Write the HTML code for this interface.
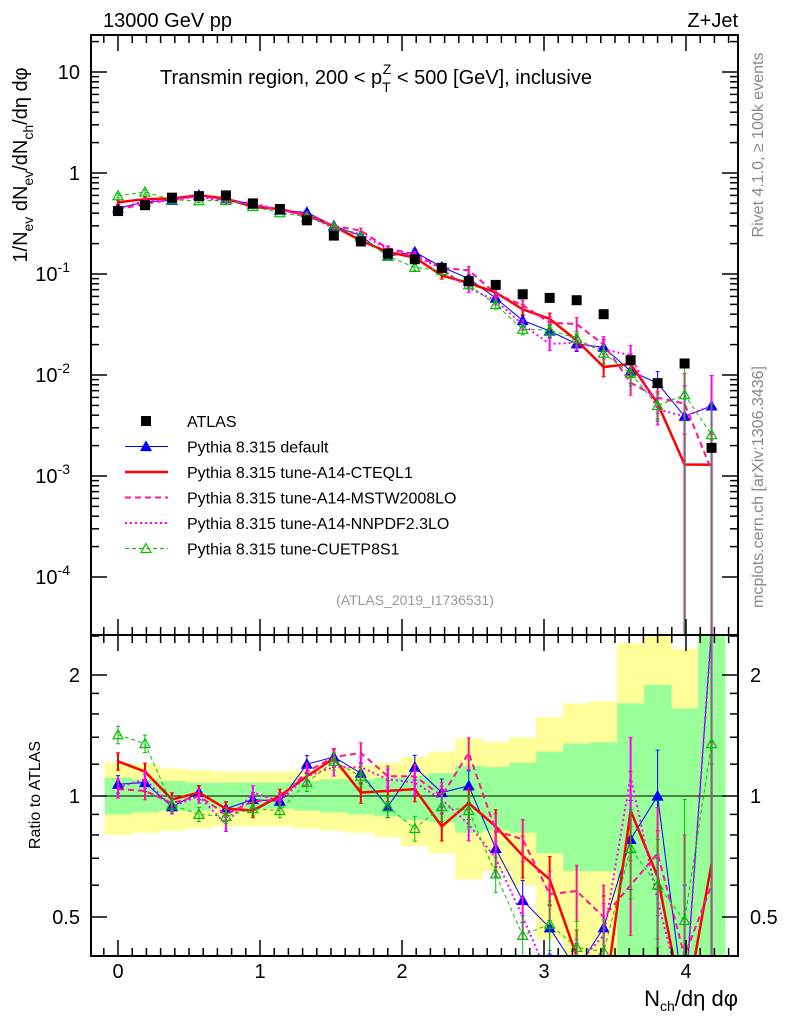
<!DOCTYPE html>
<html><head><meta charset="utf-8"><style>
html,body{margin:0;background:#fff;overflow:hidden;width:786px;height:1024px}
svg{display:block;font-family:"Liberation Sans",sans-serif}
</style></head><body>
<svg id="c" width="786" height="1024"></svg>
<script>
const xs=[0,0.19,0.38,0.57,0.76,0.95,1.14,1.33,1.52,1.71,1.9,2.09,2.28,2.47,2.66,2.85,3.04,3.23,3.42,3.61,3.8,3.99,4.18];
const atlas=[0.42,0.48,0.57,0.59,0.60,0.50,0.44,0.34,0.24,0.21,0.16,0.14,0.115,0.085,0.078,0.063,0.058,0.055,0.04,0.014,0.0083,0.013,0.0019];
const rDefault=[1.07,1.08,0.94,1.02,0.93,0.98,0.97,1.20,1.25,1.14,0.94,1.18,1.02,1.06,0.74,0.55,0.47,0.37,0.47,0.78,1.00,0.30,2.6];
const rA14=[1.22,1.15,0.98,1.02,0.93,0.92,1.00,1.12,1.24,1.02,1.03,1.04,0.84,0.96,0.84,0.71,0.62,0.40,0.30,0.92,0.63,0.10,0.68];
const rMSTW=[1.04,1.03,0.96,1.00,0.90,0.97,0.98,1.15,1.25,1.28,1.12,1.12,1.00,1.28,0.82,0.78,0.57,0.58,0.50,0.60,0.72,0.40,0.60];
const rNNPDF=[1.05,1.10,0.94,1.00,0.85,1.02,0.97,1.12,1.18,1.18,1.10,1.08,0.98,0.85,0.70,0.50,0.35,0.38,0.45,1.12,0.55,0.30,2.6];
const rCUETP=[1.42,1.35,0.95,0.90,0.89,0.93,0.92,1.08,1.22,1.12,0.94,0.83,0.94,0.92,0.64,0.45,0.48,0.42,0.41,0.74,0.60,0.49,1.35];
const relErr=[0.05,0.05,0.04,0.04,0.04,0.04,0.04,0.05,0.05,0.06,0.06,0.07,0.08,0.09,0.1,0.12,0.14,0.16,0.2,0.25,0.3,1.0,1.0];
const yLo=[.80,.81,.82,.83,.84,.84,.84,.83,.82,.81,.79,.75,.72,.62,.65,.60,.44,.38,.38,.38,.38,.38,.38];
const yHi=[1.21,1.20,1.17,1.16,1.15,1.15,1.15,1.16,1.18,1.19,1.21,1.25,1.29,1.39,1.36,1.40,1.57,1.70,1.72,2.4,2.6,2.32,2.6];
const gLo=[.90,.91,.92,.92,.93,.93,.93,.92,.91,.90,.89,.87,.86,.81,.82,.81,.72,.65,.65,.38,.38,.38,.38];
const gHi=[1.11,1.10,1.09,1.08,1.08,1.08,1.08,1.09,1.10,1.10,1.11,1.12,1.14,1.19,1.18,1.21,1.29,1.35,1.36,1.70,1.89,1.65,2.6];
const xTicks=[0,1,2,3,4];
const yTickExp=[1,0,-1,-2,-3,-4];

const NS="http://www.w3.org/2000/svg",svg=document.getElementById('c');
const L=91,R=738,T=35,MB=635,RB=956;
const X=v=>118+v*142;
const Y=v=>173-Math.log10(v)*101;
const YR=v=>796-Math.log2(v)*121;
const clampY=(y,lo,hi)=>Math.max(lo,Math.min(hi,y));
function el(t,a,p){const e=document.createElementNS(NS,t);for(const k in a)e.setAttribute(k,a[k]);(p||svg).appendChild(e);return e;}
function txt(s,a){const e=el('text',a);e.innerHTML=s;return e;}
const clipM=el('clipPath',{id:'cm'});el('rect',{x:L,y:T,width:R-L,height:MB-T},clipM);
const clipR=el('clipPath',{id:'cr'});el('rect',{x:L,y:MB,width:R-L,height:RB-MB},clipR);
const gm=el('g',{'clip-path':'url(#cm)'});
const gr=el('g',{'clip-path':'url(#cr)'});
function band(lo,hi,col,name){xs.forEach((x,i)=>{const y1=clampY(YR(hi[i]),MB,RB),y2=clampY(YR(lo[i]),MB,RB);const r=el('rect',{x:X(x-0.095),width:X(0.19)-X(0)+0.5,y:y1,height:y2-y1,fill:col},gr);});}
band(yLo,yHi,'#ffff99','total-uncertainty-band');
band(gLo,gHi,'#99ff99','stat-uncertainty-band');
el('line',{x1:L,x2:R,y1:YR(1),y2:YR(1),stroke:'#000','stroke-width':1},gr);
const series=[
 {n:'default',r:rDefault,c:'#0000ff',w:1,d:'',m:'tri',f:'#0000ff'},
 {n:'a14-cteql1',r:rA14,c:'#ff0000',w:2.5,d:'',m:'none'},
 {n:'a14-mstw2008lo',r:rMSTW,c:'#ff1493',w:2,d:'6,4',m:'none'},
 {n:'a14-nnpdf23lo',r:rNNPDF,c:'#ff00ff',w:2,d:'2,3',m:'none'},
 {n:'cuetp8s1',r:rCUETP,c:'#00c000',w:1,d:'4,3',m:'tri',f:'none'}];
function tri(g,x,y,s){el('path',{d:`M${x},${y-5}L${x+5},${y+4}L${x-5},${y+4}Z`,fill:s.f,stroke:s.c,'stroke-width':1.2},g);}
series.forEach(s=>{
 const mc=s.r.map((r,i)=>r*atlas[i]);
 [[gm,mc,Y,T,MB],[gr,s.r,YR,MB,RB]].forEach(([g,vals,fy,top,bot])=>{
  const gg=el('g',{},g);
  el('polyline',{points:xs.map((x,i)=>X(x)+','+clampY(fy(vals[i]),Math.max(top-60,5),Math.min(bot+60,1015))).join(' '),fill:'none',stroke:s.c,'stroke-width':s.w,'stroke-dasharray':s.d},gg);
  xs.forEach((x,i)=>{const e=relErr[i],lo=Math.max(vals[i]*(1-e),1e-9),hi=vals[i]*(1+e);
   el('line',{x1:X(x),x2:X(x),y1:clampY(fy(lo),top,bot),y2:clampY(fy(hi),top,bot),stroke:s.c,'stroke-width':s.w>1.5?2:1},gg);
   const yh=fy(hi),yl=fy(lo);
   if(yh>top&&yh<bot)el('line',{x1:X(x)-2,x2:X(x)+2,y1:yh,y2:yh,stroke:s.c},gg);
   if(yl>top&&yl<bot)el('line',{x1:X(x)-2,x2:X(x)+2,y1:yl,y2:yl,stroke:s.c},gg);
   const yv=fy(vals[i]);if(s.m==='tri'&&yv>top-6&&yv<bot+6)tri(gg,X(x),yv,s);});
 });
});
const ga=el('g',{},gm);
xs.forEach((x,i)=>el('rect',{x:X(x)-5,y:Y(atlas[i])-5,width:10,height:10,fill:'#000'},ga));
el('rect',{x:L,y:T,width:R-L,height:MB-T,fill:'none',stroke:'#000','stroke-width':2});
el('rect',{x:L,y:MB,width:R-L,height:RB-MB,fill:'none',stroke:'#000','stroke-width':2});
for(let v=-0.1;v<=4.35;v+=0.1){const k=Math.round(v*10)%10===0;const x=X(v);if(x<L||x>R)continue;
 [[MB,-1],[RB,-1],[T,1],[MB,1]].forEach(([y,d])=>el('line',{x1:x,x2:x,y1:y,y2:y+d*(k?16:8),stroke:'#000','stroke-width':1.5}));}
xTicks.forEach(v=>txt(v,{x:X(v),y:978,'font-size':20,'text-anchor':'middle'}));
yTickExp.forEach(e=>{for(let m=1;m<10;m++){const y=Y(m*Math.pow(10,e));if(y<T||y>MB)continue;const len=m===1?16:8;
 el('line',{x1:L,x2:L+len,y1:y,y2:y,stroke:'#000','stroke-width':1.5});el('line',{x1:R,x2:R-len,y1:y,y2:y,stroke:'#000','stroke-width':1.5});}
 const lab=e===1?'10':e===0?'1':'10<tspan dy="-9" font-size="14">'+e+'</tspan>';
 txt(lab,{x:e<0?70:80,y:Y(Math.pow(10,e))+7,'font-size':20,'text-anchor':'end'});});
[0.4,0.5,0.6,0.7,0.8,0.9,1,1.2,1.4,1.6,1.8,2,2.5].forEach(v=>{const y=YR(v);if(y<MB||y>RB)return;const len=(v===1||v===2||v===0.5)?16:8;
 el('line',{x1:L,x2:L+len,y1:y,y2:y,stroke:'#000','stroke-width':1.5});el('line',{x1:R,x2:R-len,y1:y,y2:y,stroke:'#000','stroke-width':1.5});});
[[2,'2'],[1,'1'],[0.5,'0.5']].forEach(([v,s])=>{txt(s,{x:80,y:YR(v)+7,'font-size':20,'text-anchor':'end'});txt(s,{x:750,y:YR(v)+7,'font-size':20});});
txt('13000 GeV pp',{x:103,y:27,'font-size':20});
txt('Z+Jet',{x:738,y:27,'font-size':20,'text-anchor':'end'});
txt('Transmin region, 200 &lt; p<tspan dy="8" font-size="14">T</tspan><tspan dy="-18" dx="-8" font-size="14">Z</tspan><tspan dy="10"> &lt; 500 [GeV], inclusive</tspan>',{x:160,y:84,'font-size':20});
txt('(ATLAS_2019_I1736531)',{x:415,y:605,'font-size':14,fill:'#999','text-anchor':'middle'});
txt('Rivet 4.1.0, ≥ 100k events',{transform:'translate(763,145) rotate(-90)','font-size':16,fill:'#888','text-anchor':'middle'});
txt('mcplots.cern.ch [arXiv:1306.3436]',{transform:'translate(763,487) rotate(-90)','font-size':16,fill:'#888','text-anchor':'middle'});
txt('1/N<tspan dy="6" font-size="14">ev</tspan><tspan dy="-6"> dN</tspan><tspan dy="6" font-size="14">ev</tspan><tspan dy="-6">/dN</tspan><tspan dy="6" font-size="14">ch</tspan><tspan dy="-6">/dη dφ</tspan>',{transform:'translate(27,165) rotate(-90)','font-size':20,'text-anchor':'middle'});
txt('Ratio to ATLAS',{transform:'translate(40,795) rotate(-90)','font-size':16,'text-anchor':'middle'});
txt('N<tspan dy="5" font-size="14">ch</tspan><tspan dy="-5">/dη dφ</tspan>',{x:738,y:1006,'font-size':22,'text-anchor':'end'});
const leg=[['ATLAS','sq'],['Pythia 8.315 default',0],['Pythia 8.315 tune-A14-CTEQL1',1],['Pythia 8.315 tune-A14-MSTW2008LO',2],['Pythia 8.315 tune-A14-NNPDF2.3LO',3],['Pythia 8.315 tune-CUETP8S1',4]];
leg.forEach(([s,k],i)=>{const y=421+i*25.5;const g=el('g',{});
 if(k==='sq')el('rect',{x:141,y:y-5,width:10,height:10,fill:'#000'},g);else{const se=series[k];
  el('line',{x1:125,x2:168,y1:y,y2:y,stroke:se.c,'stroke-width':se.w,'stroke-dasharray':se.d},g);if(se.m==='tri')tri(g,146,y,se);}
 const t=el('text',{x:187,y:y+6,'font-size':16},g);t.textContent=s;});
</script>
</body></html>
